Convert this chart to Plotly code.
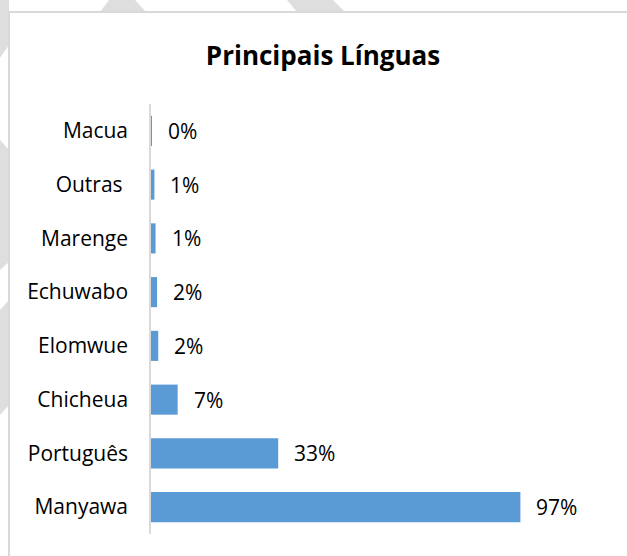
import plotly.graph_objects as go

categories = ["Macua", "Outras\u00a0", "Marenge", "Echuwabo", "Elomwue", "Chicheua", "Português", "Manyawa"]
values = [0.2, 0.9, 1.2, 1.6, 1.9, 7.0, 33.4, 97.0]
labels = ["0%", "1%", "1%", "2%", "2%", "7%", "33%", "97%"]
title_text = "Principais Línguas"

BAR = "#5b9bd5"
FONT = "Open Sans"
W, H = 627, 556
L, R, T, B = 151, 19, 104, 22
XMAX = 120

fig = go.Figure(go.Bar(
    x=values, y=categories, orientation="h",
    marker=dict(color=BAR, line=dict(width=0)),
    width=0.56, hoverinfo="skip",
))

pw = W - L - R
ph = H - T - B

def px(xp):
    return (xp - L) / pw

def py(yp):
    return (H - B - yp) / ph

def poly(pts):
    return "M " + " L ".join(f"{px(a):.4f},{py(b):.4f}" for a, b in pts) + " Z"

shapes = []
wm = [
    [(109, 0), (135, 0), (146, 12), (100, 12)],
    [(287, 0), (333, 0), (345, 12), (297, 12)],
    [(0, 0), (9, 0), (9, 45), (0, 58)],
    [(0, 140), (9, 150), (9, 262), (0, 270)],
    [(0, 310), (9, 300), (9, 405), (0, 415)],
]
for p in wm:
    shapes.append(dict(type="path", xref="paper", yref="paper", path=poly(p),
                       fillcolor="#dedede", line=dict(width=0), layer="below"))
shapes.append(dict(type="line", xref="paper", yref="paper",
                   x0=px(9), x1=px(630), y0=py(12), y1=py(12),
                   line=dict(color="#d9d9d9", width=2)))
shapes.append(dict(type="line", xref="paper", yref="paper",
                   x0=px(9), x1=px(9), y0=py(12), y1=py(560),
                   line=dict(color="#d9d9d9", width=2)))

annotations = []
for c, v, t in zip(categories, values, labels):
    annotations.append(dict(x=v, y=c, xref="x", yref="y", text=t, showarrow=False,
                            xanchor="left", yanchor="middle", xshift=14,
                            font=dict(family=FONT, size=21, color="#000000")))

fig.update_layout(
    width=W, height=H,
    margin=dict(l=L, r=R, t=T, b=B),
    paper_bgcolor="white", plot_bgcolor="white",
    showlegend=False,
    title=dict(text=f"<b>{title_text}</b>", x=(323) / W, xanchor="center",
               y=1 - 56 / H, yanchor="middle",
               font=dict(family=FONT, size=26, color="#000000")),
    xaxis=dict(range=[0, XMAX], visible=False, fixedrange=True),
    yaxis=dict(categoryorder="array", categoryarray=categories, autorange="reversed",
               showline=True, linecolor="#d9d9d9", linewidth=1.5,
               showgrid=False, zeroline=False, ticks="",
               ticklabelstandoff=17, fixedrange=True,
               tickfont=dict(family=FONT, size=21, color="#000000")),
    shapes=shapes,
    annotations=annotations,
)

fig.write_html("out.html", config={"displayModeBar": False},
               post_script="document.body.style.margin='0px';document.body.style.padding='0px';")
